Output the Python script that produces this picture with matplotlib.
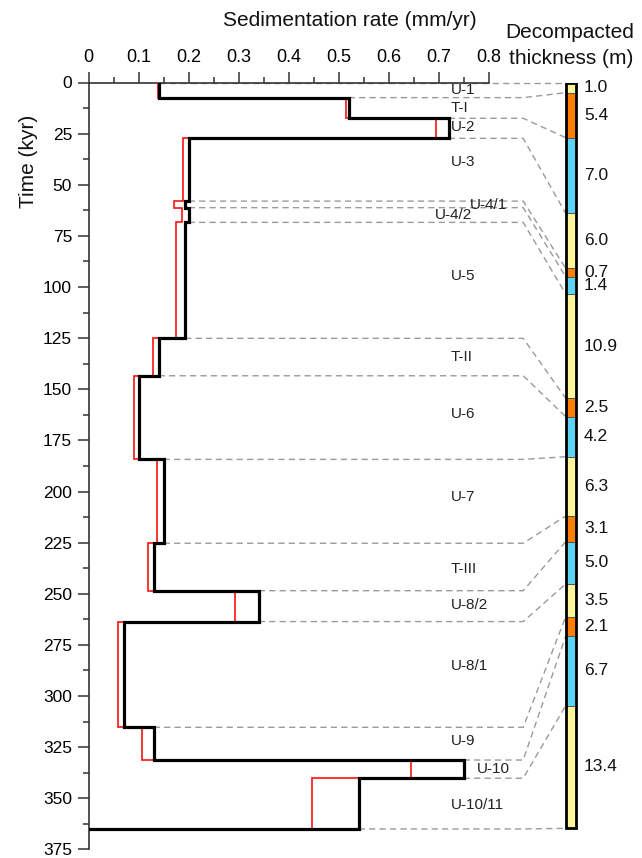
import matplotlib
matplotlib.use("Agg")
import matplotlib.pyplot as plt
import numpy as np

plt.rcParams['font.family'] = ['Liberation Sans', 'DejaVu Sans']

# ---------------- data ----------------
unit_names = ['U-1', 'T-I', 'U-2', 'U-3', 'U-4/1', 'U-4/2', 'U-5', 'T-II', 'U-6',
              'U-7', 'T-III', 'U-8/2', 'U-8/1', 'U-9', 'U-10', 'U-10/11']
unit_bounds = [0, 7.4, 17.5, 27.3, 58.0, 61.2, 68.4, 125.1, 143.4, 184.3,
               225.3, 248.5, 263.6, 315.3, 331.3, 340.2, 365.0]
rate_black = [0.14, 0.52, 0.72, 0.20, 0.193, 0.20, 0.193, 0.14, 0.10, 0.15,
              0.13, 0.34, 0.07, 0.13, 0.75, 0.54]
rate_red = [0.138, 0.514, 0.694, 0.188, 0.171, 0.186, 0.175, 0.128, 0.091, 0.137,
            0.118, 0.293, 0.058, 0.107, 0.644, 0.447]
thickness = [1.0, 5.4, 7.0, 6.0, 0.7, 1.4, 10.9, 2.5, 4.2, 6.3, 3.1, 5.0, 3.5,
             2.1, 6.7, 13.4]
column_bounds = [0, 5.0, 27.0, 64.0, 90.9, 95.0, 103.4, 154.4, 163.4, 183.0,
                 212.0, 224.5, 245.2, 261.2, 270.7, 304.7, 364.7]

x_ticks = [0, 0.1, 0.2, 0.3, 0.4, 0.5, 0.6, 0.7, 0.8]
y_ticks = [0, 25, 50, 75, 100, 125, 150, 175, 200, 225, 250, 275, 300, 325, 350, 375]

# ---------------- layout / style ----------------
label_y = [3.7, 12.6, 21.6, 39, 59.9, 64.8, 94.6, 134, 162, 202.5, 238, 255.5,
           285.3, 322, 335.8, 353.3]
label_x = [0.7246] * 16
label_x[4] = 0.7626
label_x[5] = 0.6926
label_x[14] = 0.776

col_colors = ['#FFF59B', '#FF8000', '#5DD3F5']
col_left, col_w = 0.954, 0.0206
bend_x = 0.869

W, H = 642, 858
fig = plt.figure(figsize=(W / 100, H / 100), dpi=100)
x0px, x1px = 88.7, 640.0
y0px, y1px = 82.5, 849.4
pxper = 500.0
ax = fig.add_axes([x0px / W, 1 - y1px / H, (x1px - x0px) / W, (y1px - y0px) / H])
ax.set_xlim(0, (x1px - x0px) / pxper)
ax.set_ylim(375, 0)

axc = '#333333'
for s in ['right', 'bottom']:
    ax.spines[s].set_visible(False)
ax.spines['top'].set_bounds(0, 0.8)
ax.spines['left'].set_bounds(0, 375)
for s in ['top', 'left']:
    ax.spines[s].set_color(axc)
    ax.spines[s].set_linewidth(1.2)

ax.xaxis.tick_top()
ax.set_xticks(x_ticks)
ax.set_xticklabels([f'{v:g}' for v in x_ticks])
ax.set_xticks(np.arange(0.05, 0.8, 0.1), minor=True)
ax.set_yticks(y_ticks)
ax.set_yticks(np.arange(12.5, 375, 25), minor=True)
ax.tick_params(axis='both', which='major', length=8, width=1.1, color=axc,
               labelsize=13, direction='out', pad=4)
ax.tick_params(axis='y', which='major', labelsize=12.5)
ax.tick_params(axis='both', which='minor', length=4, width=1.1, color=axc,
               direction='out')
ax.tick_params(axis='x', which='both', top=True, bottom=False)


def step_path(vals, bounds):
    ys = np.repeat(bounds, 2)[1:-1]
    xs = np.repeat(vals, 2)
    ys = np.append(ys, bounds[-1])
    xs = np.append(xs, 0.0)
    return xs, ys


# step lines
xr, yr = step_path(rate_red, unit_bounds)
ax.plot(xr, yr, color='#FF1010', lw=1.2, zorder=3, solid_joinstyle='miter')
xb, yb_ = step_path(rate_black, unit_bounds)
ax.plot(xb, yb_, color='black', lw=2.3, zorder=4, solid_joinstyle='miter')

# dashed connectors
for i, yb in enumerate(unit_bounds):
    neighbours = []
    if i > 0:
        neighbours.append(rate_black[i - 1])
    if i < len(rate_black):
        neighbours.append(rate_black[i])
    xs = max(neighbours)
    yc = column_bounds[i]
    ax.plot([xs, bend_x, col_left], [yb, yb, yc], color='#9a9a9a', lw=1.0,
            ls=(0, (4.5, 3)), zorder=2, clip_on=False)

# unit labels
for name, lx, ly in zip(unit_names, label_x, label_y):
    ax.text(lx, ly, name, fontsize=11, ha='left', va='center', color='#222222',
            zorder=5)

# column
for i in range(len(thickness)):
    top, bot = column_bounds[i], column_bounds[i + 1]
    ax.bar(col_left + col_w / 2, bot - top, bottom=top, width=col_w,
           color=col_colors[i % 3], edgecolor='#555555', linewidth=0.7, zorder=3)
    ax.text(0.9906, (top + bot) / 2, f'{thickness[i]:.1f}', fontsize=12.5,
            ha='left', va='center', color='#111111')
ax.bar(col_left + col_w / 2, column_bounds[-1] - column_bounds[0],
       bottom=column_bounds[0], width=col_w, fill=False, edgecolor='black',
       linewidth=2.0, zorder=4)

# titles
fig.text(350 / W, 1 - 20 / H, 'Sedimentation rate (mm/yr)', fontsize=15,
         ha='center', va='center', color='#111111')
fig.text(570 / W, 1 - 33 / H, 'Decompacted', fontsize=15, ha='center',
         va='center', color='#111111')
fig.text(571 / W, 1 - 58 / H, 'thickness (m)', fontsize=15, ha='center',
         va='center', color='#111111')
fig.text(28 / W, 1 - 161 / H, 'Time (kyr)', fontsize=15, rotation=90,
         ha='center', va='center', color='#111111')

fig.savefig('out.png', dpi=100)
